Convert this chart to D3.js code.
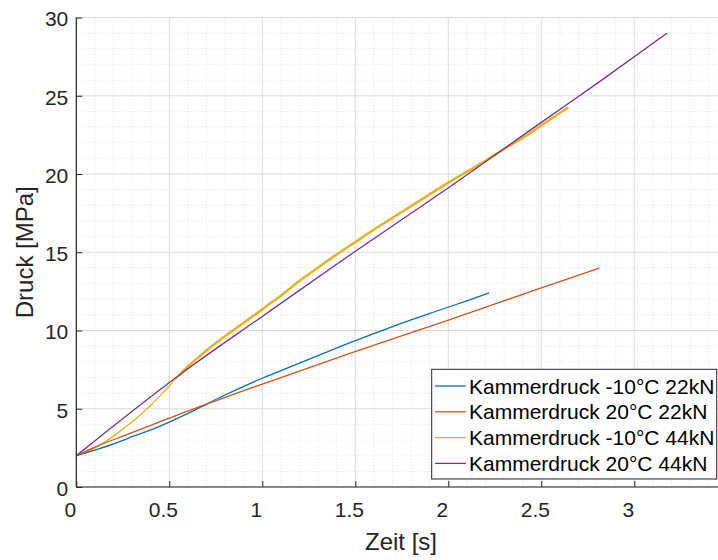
<!DOCTYPE html>
<html><head><meta charset="utf-8">
<script src="https://cdn.jsdelivr.net/npm/d3@7"></script>
<style>
html,body{margin:0;padding:0;background:#fff;overflow:hidden;}
svg{display:block;font-family:"Liberation Sans",Arial,Helvetica,sans-serif;}
</style></head>
<body>
<svg id="c" width="718" height="560"></svg>
<script>
// ---- data ----
const seriesNames = ["Kammerdruck -10°C 22kN","Kammerdruck 20°C 22kN","Kammerdruck -10°C 44kN","Kammerdruck 20°C 44kN"];
const seriesColors = ["#0072BD","#D95319","#EDB120","#7E2F8E"];
const xTicks = [0,0.5,1,1.5,2,2.5,3];
const yTicks = [0,5,10,15,20,25,30];

const blueT = [0,0.1,0.2,0.254,0.3,0.4,0.5,0.6,0.7,0.8,0.9,1.0,1.15,1.3,1.472,1.6,1.8,1.955,2.1,2.22];
const blueV = [2.0,2.35,2.75,3.0,3.22,3.65,4.15,4.7,5.3,5.88,6.43,6.95,7.68,8.4,9.22,9.8,10.68,11.31,11.9,12.4];

const redT = [0,0.1,0.25,0.5,0.666,0.8,1.0,1.15,1.471,2.009,2.5,2.812];
const redV = [2.0,2.55,3.25,4.4,5.15,5.72,6.58,7.2,8.54,10.7,12.72,13.98];

const yellowT = [0,0.05,0.1,0.15,0.2,0.25,0.3,0.35,0.4,0.45,0.5,0.55,0.6,0.65,0.7,0.75,0.8,0.85,0.9,0.95,1.0,1.05,1.1,1.15,1.2,1.25,1.3,1.35,1.4,1.45,1.5,1.6,1.7,1.8,1.9,2.0,2.1,2.2,2.3,2.4,2.5,2.6,2.645];
const yellowV = [2.0,2.22,2.5,2.85,3.25,3.7,4.17,4.67,5.22,5.82,6.45,7.1,7.7,8.22,8.72,9.2,9.65,10.07,10.5,10.92,11.35,11.8,12.22,12.7,13.18,13.6,14.02,14.45,14.85,15.25,15.65,16.45,17.2,17.95,18.7,19.45,20.15,20.85,21.6,22.3,23.1,23.9,24.25];

const purpleT = [0,0.567,1.0,1.471,2.009,2.5,2.825,3.175];
const purpleV = [2.0,7.27,10.9,14.82,19.19,23.3,26.0,29.0];

// ---- chart ----
const svg = d3.select("#c");
const x = d3.scaleLinear().domain([0,3.5]).range([76.3,727.3]);
const y = d3.scaleLinear().domain([0,30]).range([487,17.5]);
const axisCol = "#262626";

svg.append("clipPath").attr("id","pc").append("rect")
  .attr("x",x(0)).attr("y",y(30)).attr("width",x(3.5)-x(0)).attr("height",y(0)-y(30));

const g = svg.append("g");
// minor grid
const xMinor = d3.range(0,3.5001,0.1).filter(v=>Math.abs(v*2-Math.round(v*2))>1e-6);
const yMinor = d3.range(0,30.001,1).filter(v=>v%5!==0);
g.selectAll(".xm").data(xMinor).join("line")
  .attr("x1",d=>x(d)).attr("x2",d=>x(d)).attr("y1",y(0)).attr("y2",y(30))
  .attr("stroke","#e4e4e4").attr("stroke-width",1).attr("stroke-dasharray","1,2");
g.selectAll(".ym").data(yMinor).join("line")
  .attr("y1",d=>y(d)).attr("y2",d=>y(d)).attr("x1",x(0)).attr("x2",x(3.5))
  .attr("stroke","#e4e4e4").attr("stroke-width",1).attr("stroke-dasharray","1,2");
// major grid
g.selectAll(".xg").data(d3.range(0,3.5001,0.5)).join("line")
  .attr("x1",d=>x(d)).attr("x2",d=>x(d)).attr("y1",y(0)).attr("y2",y(30))
  .attr("stroke","#dcdcdc").attr("stroke-width",1);
g.selectAll(".yg").data(yTicks).join("line")
  .attr("y1",d=>y(d)).attr("y2",d=>y(d)).attr("x1",x(0)).attr("x2",x(3.5))
  .attr("stroke","#dcdcdc").attr("stroke-width",1);

// lines
const lineGen = d3.line().x(d=>x(d[0])).y(d=>y(d[1])).curve(d3.curveMonotoneX);
const zip = (a,b)=>a.map((v,i)=>[v,b[i]]);
const data = [zip(blueT,blueV), zip(redT,redV), zip(yellowT,yellowV), zip(purpleT,purpleV)];
const lg = svg.append("g").attr("clip-path","url(#pc)");
// yellow: noisy measurement band -> thicker after ~0.55 s
lg.append("path").datum(data[2].filter(d=>d[0]<=0.6)).attr("d",lineGen)
  .attr("fill","none").attr("stroke",seriesColors[2]).attr("stroke-width",1.3);
lg.append("path").datum(data[2].filter(d=>d[0]>=0.55)).attr("d",lineGen)
  .attr("fill","none").attr("stroke",seriesColors[2]).attr("stroke-width",2.5);
[0,1,3].forEach(i=>{
  lg.append("path").datum(data[i]).attr("d",lineGen)
    .attr("fill","none").attr("stroke",seriesColors[i]).attr("stroke-width",1.3);
});

// axes
const xAxis = d3.axisBottom(x).tickValues(xTicks).tickSize(-6).tickPadding(10).tickFormat(d3.format("~g"));
const yAxis = d3.axisLeft(y).tickValues(yTicks).tickSize(-6).tickPadding(8).tickFormat(d3.format("~g"));
const gx = svg.append("g").attr("transform",`translate(0,${y(0)})`).call(xAxis);
const gy = svg.append("g").attr("transform",`translate(${x(0)},0)`).call(yAxis);
[gx,gy].forEach(a=>{
  a.select(".domain").attr("stroke",axisCol).attr("stroke-width",1.2);
  a.selectAll(".tick line").attr("stroke",axisCol).attr("stroke-width",1);
  a.selectAll(".tick text").attr("fill",axisCol).attr("font-size",21)
    .attr("font-family","Liberation Sans,Arial,sans-serif");
});
gx.select(".domain").attr("d",`M${x(0)},0H${x(3.5)}`);
gy.select(".domain").attr("d",`M0,${y(0)}V${y(30)}`);
gx.selectAll(".tick text").attr("dx",-6.5).attr("dy","0.95em");
gy.selectAll(".tick text").attr("dy","0.4em");

// axis titles
svg.append("text").attr("x",401).attr("y",550).attr("text-anchor","middle")
  .attr("font-size",24).attr("fill",axisCol).text("Zeit [s]");
svg.append("text").attr("transform",`translate(33,${(y(0)+y(30))/2}) rotate(-90)`)
  .attr("text-anchor","middle").attr("font-size",24).attr("fill",axisCol).text("Druck [MPa]");

// legend
const leg = svg.append("g");
leg.append("rect").attr("x",431.7).attr("y",369.3).attr("width",285).attr("height",109.7)
  .attr("fill","#fff").attr("stroke",axisCol).attr("stroke-width",1);
seriesNames.forEach((n,i)=>{
  const yy = 386 + i*25.8;
  leg.append("line").attr("x1",435).attr("x2",466).attr("y1",yy).attr("y2",yy)
    .attr("stroke",seriesColors[i]).attr("stroke-width",1.3);
  leg.append("text").attr("x",469).attr("y",yy).attr("dy","0.36em")
    .attr("font-size",21).attr("fill","#000").text(n);
});
</script>
</body></html>
